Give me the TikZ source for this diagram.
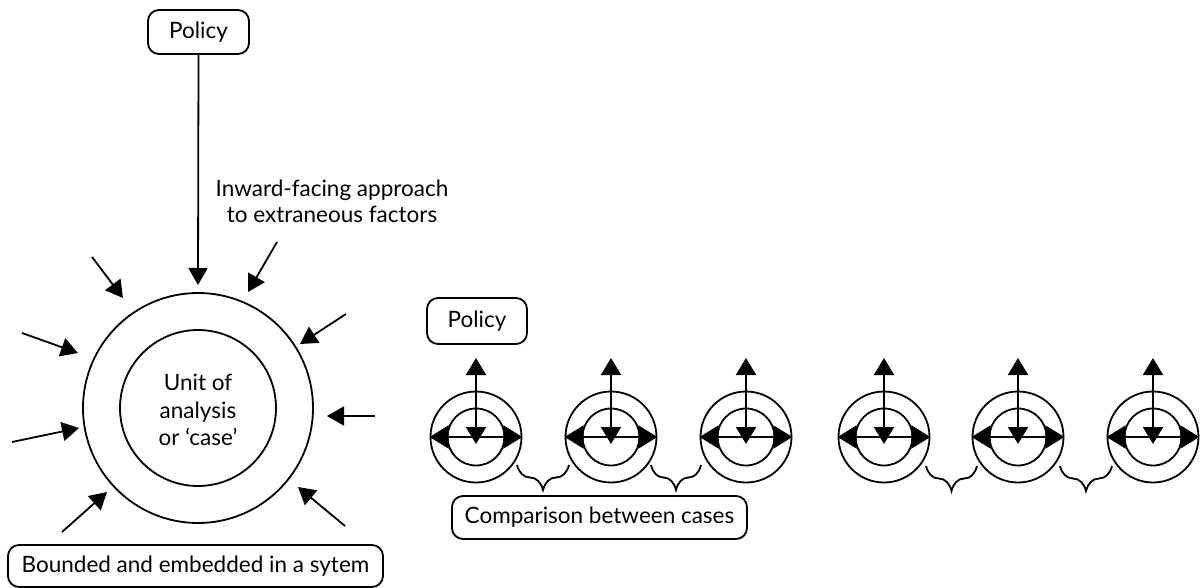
\documentclass[tikz,border=0pt]{standalone}
\usepackage{fontspec}
\setmainfont{Lato}
\usetikzlibrary{arrows.meta,decorations.pathreplacing}
\begin{document}
\begin{tikzpicture}[x=1pt,y=-1pt,
  every node/.style={font=\fontsize{22.5}{27.5}\selectfont},
  lw/.style={line width=1.8pt},
  rbox/.style={draw,lw,rounded corners=11pt,inner sep=0pt,align=center},
  ring/.style={draw,lw,circle,inner sep=0pt},
  arr/.style={lw,-{Triangle[length=17pt,width=19pt]}},
  darr/.style={lw,{Triangle[length=17pt,width=20pt]}-{Triangle[length=17pt,width=20pt]}},
  harr/.style={lw,{Triangle[length=19pt,width=23pt]}-{Triangle[length=19pt,width=23pt]}},
  brc/.style={lw,decorate,decoration={brace,mirror,amplitude=25pt}}
]
\useasboundingbox (0,0) rectangle (1200,588);

% left part
\node[rbox,minimum width=101pt,minimum height=44pt] (pol) at (198.5,32) {Policy};
\node[ring,minimum size=230pt] (outer) at (198,408) {};
\node[ring,minimum size=156pt] (inner) at (198,408) {};
\node[align=center] (unit) at (198,410) {Unit of\\analysis\\or ‘case’};
\node[align=center,font=\fontsize{22.5}{26}\selectfont] (inward) at (332,201) {Inward-facing approach\\to extraneous factors};
\node[rbox,minimum width=375pt,minimum height=42pt] (bounded) at (195.5,566) {Bounded and embedded in a sytem};

\coordinate (ttop) at (198,285);
\draw[arr] (pol.south) -- (ttop);

\coordinate (s1) at (92,257);  \coordinate (t1) at (123,298);
\coordinate (s2) at (277,242); \coordinate (t2) at (248,292);
\coordinate (s3) at (346,314); \coordinate (t3) at (300,344);
\coordinate (s4) at (375,416); \coordinate (t4) at (327,416);
\coordinate (s5) at (345,526); \coordinate (t5) at (298,487);
\coordinate (s6) at (62,532);  \coordinate (t6) at (107,492);
\coordinate (s7) at (12,442);  \coordinate (t7) at (79,428);
\coordinate (s8) at (22,333);  \coordinate (t8) at (78,353);
\foreach \i in {1,...,8} { \draw[arr] (s\i) -- (t\i); }

% right part
\node[rbox,minimum width=100pt,minimum height=46pt] (pol2) at (477,321) {Policy};
\node[rbox,minimum width=295pt,minimum height=43pt] (comp) at (599.5,517.5) {Comparison between cases};

\foreach \i/\x in {1/476,2/611,3/746,4/884,5/1018,6/1153} {
  \node[ring,minimum size=91pt] (o\i) at (\x,437) {};
  \node[ring,minimum size=57pt] (n\i) at (\x,437) {};
  \coordinate (up\i) at (\x,358);
  \coordinate (dn\i) at (\x,444);
  \draw[darr] (up\i) -- (dn\i);
  \draw[harr] (o\i.west) -- (o\i.east);
}

\coordinate (b1a) at (517,465); \coordinate (b1b) at (569,465);
\coordinate (b2a) at (651,465); \coordinate (b2b) at (701,465);
\coordinate (b3a) at (926,466); \coordinate (b3b) at (977,466);
\coordinate (b4a) at (1060,466); \coordinate (b4b) at (1112,466);
\foreach \i in {1,...,4} { \draw[brc] (b\i a) -- (b\i b); }
\end{tikzpicture}
\end{document}
